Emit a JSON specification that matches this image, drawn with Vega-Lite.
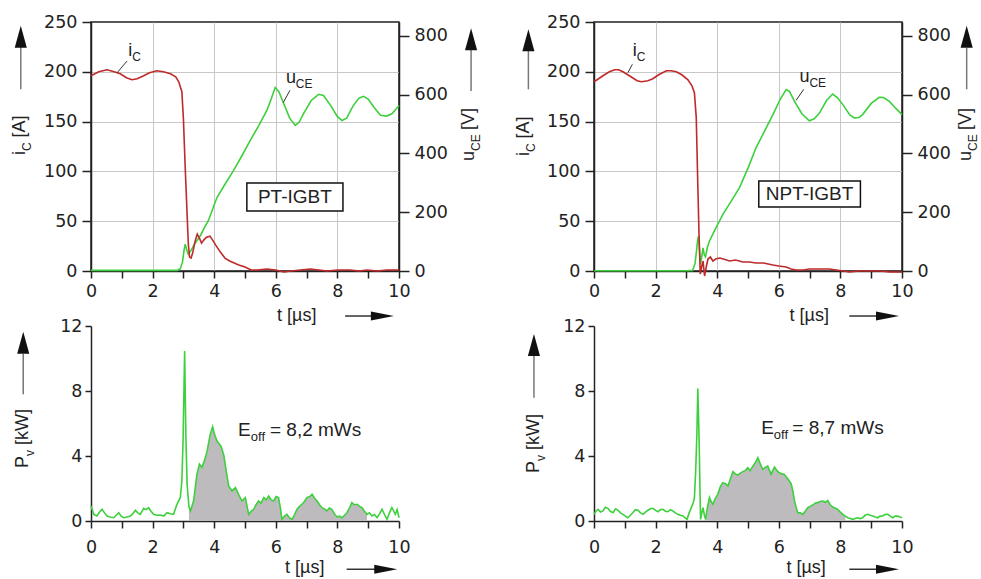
{
  "$schema": "https://vega.github.io/schema/vega-lite/v6.json",
  "padding": {"left": 10, "top": 12, "right": 0, "bottom": 0},
  "background": "white",
  "config": {
    "view": {"stroke": null},
    "font": "Liberation Sans",
    "axis": {"labelFont": "DejaVu Sans", "labelFontSize": 17.5, "labelColor": "#222", "domainColor": "#222", "domainWidth": 1.5, "tickColor": "#222", "tickWidth": 1.5, "gridColor": "#c8c8c8", "gridWidth": 1, "labelFlush": false, "labelOverlap": false},
    "text": {"font": "Liberation Sans", "fill": "#222"}
  },
  "datasets": {
    "tl_current": [
      {"t":0,"y":196},{"t":0.25,"y":200},{"t":0.52,"y":202},{"t":0.75,"y":200},{"t":0.95,"y":198},{"t":1.15,"y":194},{"t":1.33,"y":192},{"t":1.5,"y":193},{"t":1.71,"y":196},{"t":1.9,"y":199},{"t":2.14,"y":201},{"t":2.35,"y":200},{"t":2.58,"y":198},{"t":2.75,"y":195},{"t":2.85,"y":190},{"t":2.95,"y":180},{"t":3.0,"y":153},{"t":3.06,"y":103},{"t":3.12,"y":57},{"t":3.16,"y":27},{"t":3.2,"y":14},{"t":3.25,"y":13},{"t":3.3,"y":18},{"t":3.38,"y":30},{"t":3.45,"y":37},{"t":3.52,"y":33},{"t":3.59,"y":28},{"t":3.66,"y":31},{"t":3.75,"y":34},{"t":3.86,"y":35},{"t":3.95,"y":31},{"t":4.05,"y":26},{"t":4.2,"y":19},{"t":4.35,"y":13},{"t":4.5,"y":10},{"t":4.65,"y":8},{"t":4.8,"y":6},{"t":5.0,"y":4},{"t":5.2,"y":1},{"t":5.4,"y":1},{"t":5.71,"y":2},{"t":6.0,"y":1},{"t":6.26,"y":-1},{"t":6.5,"y":0},{"t":6.8,"y":1},{"t":7.12,"y":2},{"t":7.4,"y":1},{"t":7.66,"y":0},{"t":8.0,"y":1},{"t":8.42,"y":1},{"t":8.7,"y":0},{"t":8.96,"y":1},{"t":9.3,"y":0},{"t":9.6,"y":1},{"t":10,"y":1}
    ],
    "tl_voltage": [
      {"t":0,"y":2},{"t":1,"y":2},{"t":2,"y":2},{"t":2.8,"y":2},{"t":2.9,"y":8},{"t":2.97,"y":30},{"t":3.02,"y":70},{"t":3.06,"y":91},{"t":3.1,"y":75},{"t":3.16,"y":57},{"t":3.25,"y":70},{"t":3.35,"y":90},{"t":3.43,"y":102},{"t":3.55,"y":120},{"t":3.67,"y":145},{"t":3.81,"y":171},{"t":4.09,"y":250},{"t":4.35,"y":295},{"t":4.63,"y":342},{"t":4.9,"y":392},{"t":5.17,"y":444},{"t":5.45,"y":495},{"t":5.71,"y":546},{"t":5.85,"y":585},{"t":5.98,"y":624},{"t":6.1,"y":610},{"t":6.26,"y":569},{"t":6.45,"y":520},{"t":6.63,"y":495},{"t":6.75,"y":505},{"t":6.9,"y":535},{"t":7.15,"y":580},{"t":7.39,"y":601},{"t":7.55,"y":597},{"t":7.8,"y":560},{"t":8.0,"y":525},{"t":8.15,"y":512},{"t":8.3,"y":520},{"t":8.5,"y":560},{"t":8.7,"y":588},{"t":8.85,"y":594},{"t":9.0,"y":585},{"t":9.18,"y":558},{"t":9.4,"y":530},{"t":9.6,"y":527},{"t":9.77,"y":535},{"t":9.9,"y":550},{"t":10,"y":563}
    ],
    "tr_current": [
      {"t":0,"y":190},{"t":0.15,"y":193},{"t":0.29,"y":196},{"t":0.5,"y":200},{"t":0.67,"y":202},{"t":0.8,"y":202},{"t":0.94,"y":200},{"t":1.2,"y":195},{"t":1.4,"y":191},{"t":1.54,"y":190},{"t":1.75,"y":191},{"t":1.91,"y":193},{"t":2.1,"y":197},{"t":2.35,"y":201},{"t":2.5,"y":201},{"t":2.67,"y":200},{"t":2.85,"y":197},{"t":3.05,"y":192},{"t":3.18,"y":186},{"t":3.26,"y":179},{"t":3.32,"y":154},{"t":3.37,"y":87},{"t":3.41,"y":37},{"t":3.45,"y":-3},{"t":3.5,"y":5},{"t":3.54,"y":10},{"t":3.59,"y":-5},{"t":3.65,"y":5},{"t":3.7,"y":12},{"t":3.78,"y":14},{"t":3.86,"y":10},{"t":3.95,"y":12},{"t":4.08,"y":13},{"t":4.2,"y":12},{"t":4.4,"y":10},{"t":4.6,"y":11},{"t":4.83,"y":9},{"t":5.05,"y":9},{"t":5.26,"y":8},{"t":5.5,"y":8},{"t":5.81,"y":6},{"t":6.0,"y":5},{"t":6.24,"y":4},{"t":6.4,"y":2},{"t":6.56,"y":1},{"t":6.8,"y":1},{"t":6.99,"y":2},{"t":7.2,"y":2},{"t":7.43,"y":2},{"t":7.65,"y":2},{"t":7.86,"y":1},{"t":8.1,"y":0},{"t":8.29,"y":-1},{"t":8.6,"y":0},{"t":8.94,"y":0},{"t":9.3,"y":0},{"t":9.6,"y":-1},{"t":10,"y":-1}
    ],
    "tr_voltage": [
      {"t":0,"y":1},{"t":1,"y":1},{"t":2,"y":1},{"t":3,"y":1},{"t":3.2,"y":2},{"t":3.28,"y":25},{"t":3.33,"y":70},{"t":3.37,"y":110},{"t":3.4,"y":119},{"t":3.43,"y":60},{"t":3.46,"y":25},{"t":3.5,"y":50},{"t":3.54,"y":79},{"t":3.58,"y":55},{"t":3.62,"y":48},{"t":3.68,"y":80},{"t":3.75,"y":102},{"t":3.9,"y":135},{"t":4.18,"y":192},{"t":4.45,"y":237},{"t":4.72,"y":283},{"t":5.0,"y":350},{"t":5.26,"y":419},{"t":5.55,"y":478},{"t":5.81,"y":532},{"t":6.05,"y":585},{"t":6.24,"y":617},{"t":6.35,"y":610},{"t":6.51,"y":577},{"t":6.75,"y":535},{"t":6.99,"y":511},{"t":7.15,"y":518},{"t":7.32,"y":537},{"t":7.55,"y":580},{"t":7.75,"y":602},{"t":7.9,"y":590},{"t":8.08,"y":566},{"t":8.3,"y":532},{"t":8.45,"y":521},{"t":8.6,"y":522},{"t":8.72,"y":532},{"t":9.0,"y":570},{"t":9.26,"y":591},{"t":9.4,"y":590},{"t":9.59,"y":577},{"t":9.8,"y":553},{"t":10,"y":532}
    ],
    "bl_power": [
      {"t":0,"y":0.92},{"t":0.09,"y":0.41},{"t":0.19,"y":0.31},{"t":0.28,"y":0.55},{"t":0.36,"y":0.72},{"t":0.44,"y":0.5},{"t":0.52,"y":0.31},{"t":0.62,"y":0.25},{"t":0.74,"y":0.2},{"t":0.82,"y":0.35},{"t":0.9,"y":0.51},{"t":0.98,"y":0.3},{"t":1.06,"y":0.2},{"t":1.17,"y":0.25},{"t":1.28,"y":0.31},{"t":1.36,"y":0.45},{"t":1.44,"y":0.66},{"t":1.52,"y":0.5},{"t":1.6,"y":0.41},{"t":1.71,"y":0.78},{"t":1.79,"y":0.7},{"t":1.87,"y":0.82},{"t":1.95,"y":0.6},{"t":2.03,"y":0.41},{"t":2.14,"y":0.35},{"t":2.25,"y":0.37},{"t":2.36,"y":0.3},{"t":2.47,"y":0.51},{"t":2.58,"y":0.45},{"t":2.68,"y":0.41},{"t":2.79,"y":1.03},{"t":2.9,"y":1.44},{"t":2.95,"y":2.46},{"t":2.99,"y":5.0},{"t":3.04,"y":10.46},{"t":3.08,"y":5.3},{"t":3.12,"y":2.26},{"t":3.18,"y":0.9},{"t":3.23,"y":0.62},{"t":3.33,"y":1.23},{"t":3.44,"y":2.87},{"t":3.52,"y":3.5},{"t":3.6,"y":3.3},{"t":3.68,"y":3.7},{"t":3.77,"y":4.3},{"t":3.87,"y":5.33},{"t":3.95,"y":5.8},{"t":4.01,"y":5.33},{"t":4.09,"y":4.92},{"t":4.22,"y":4.6},{"t":4.31,"y":4.06},{"t":4.39,"y":3.08},{"t":4.47,"y":2.15},{"t":4.58,"y":1.85},{"t":4.69,"y":2.05},{"t":4.79,"y":1.64},{"t":4.9,"y":1.23},{"t":5.01,"y":1.44},{"t":5.12,"y":0.41},{"t":5.2,"y":0.6},{"t":5.28,"y":0.72},{"t":5.36,"y":1.0},{"t":5.44,"y":1.23},{"t":5.52,"y":1.1},{"t":5.61,"y":1.44},{"t":5.69,"y":1.3},{"t":5.77,"y":1.54},{"t":5.85,"y":1.3},{"t":5.93,"y":1.23},{"t":6.01,"y":1.5},{"t":6.09,"y":1.44},{"t":6.15,"y":0.8},{"t":6.2,"y":0.1},{"t":6.28,"y":0.3},{"t":6.36,"y":0.41},{"t":6.44,"y":0.2},{"t":6.53,"y":0.1},{"t":6.61,"y":0.4},{"t":6.69,"y":0.72},{"t":6.77,"y":0.9},{"t":6.85,"y":1.03},{"t":6.93,"y":1.2},{"t":7.01,"y":1.44},{"t":7.1,"y":1.5},{"t":7.18,"y":1.64},{"t":7.26,"y":1.4},{"t":7.34,"y":1.23},{"t":7.42,"y":1.0},{"t":7.5,"y":0.82},{"t":7.58,"y":0.75},{"t":7.66,"y":0.62},{"t":7.74,"y":0.8},{"t":7.82,"y":0.72},{"t":7.9,"y":0.45},{"t":7.99,"y":0.25},{"t":8.07,"y":0.3},{"t":8.15,"y":0.2},{"t":8.23,"y":0.35},{"t":8.31,"y":0.51},{"t":8.39,"y":0.8},{"t":8.47,"y":1.13},{"t":8.55,"y":1.0},{"t":8.64,"y":1.03},{"t":8.72,"y":0.9},{"t":8.8,"y":0.82},{"t":8.88,"y":0.6},{"t":8.96,"y":0.41},{"t":9.04,"y":0.5},{"t":9.12,"y":0.31},{"t":9.2,"y":0.4},{"t":9.29,"y":0.2},{"t":9.37,"y":0.45},{"t":9.45,"y":0.72},{"t":9.53,"y":0.4},{"t":9.61,"y":0.1},{"t":9.69,"y":0.5},{"t":9.77,"y":0.82},{"t":9.83,"y":0.6},{"t":9.88,"y":0.41},{"t":9.94,"y":0.7},{"t":10,"y":0.2}
    ],
    "br_power": [
      {"t":0,"y":0.41},{"t":0.06,"y":0.6},{"t":0.13,"y":0.72},{"t":0.21,"y":0.55},{"t":0.29,"y":0.62},{"t":0.37,"y":0.85},{"t":0.45,"y":0.78},{"t":0.53,"y":0.6},{"t":0.62,"y":0.51},{"t":0.7,"y":0.75},{"t":0.78,"y":0.66},{"t":0.86,"y":0.5},{"t":0.94,"y":0.41},{"t":1.02,"y":0.3},{"t":1.1,"y":0.2},{"t":1.18,"y":0.35},{"t":1.26,"y":0.51},{"t":1.34,"y":0.7},{"t":1.43,"y":0.66},{"t":1.51,"y":0.5},{"t":1.59,"y":0.41},{"t":1.67,"y":0.55},{"t":1.75,"y":0.66},{"t":1.83,"y":0.75},{"t":1.91,"y":0.78},{"t":2.0,"y":0.65},{"t":2.08,"y":0.57},{"t":2.16,"y":0.7},{"t":2.24,"y":0.72},{"t":2.32,"y":0.6},{"t":2.4,"y":0.57},{"t":2.48,"y":0.7},{"t":2.56,"y":0.62},{"t":2.64,"y":0.5},{"t":2.72,"y":0.41},{"t":2.8,"y":0.35},{"t":2.89,"y":0.31},{"t":2.95,"y":0.2},{"t":3.02,"y":0.1},{"t":3.09,"y":0.5},{"t":3.16,"y":0.82},{"t":3.22,"y":1.1},{"t":3.26,"y":1.44},{"t":3.3,"y":3.0},{"t":3.34,"y":5.33},{"t":3.37,"y":8.16},{"t":3.4,"y":6.0},{"t":3.42,"y":4.3},{"t":3.44,"y":2.0},{"t":3.46,"y":0.1},{"t":3.5,"y":0.5},{"t":3.54,"y":0.82},{"t":3.58,"y":0.4},{"t":3.62,"y":0.1},{"t":3.68,"y":0.8},{"t":3.75,"y":1.44},{"t":3.8,"y":1.2},{"t":3.86,"y":1.03},{"t":3.94,"y":1.4},{"t":4.02,"y":1.64},{"t":4.1,"y":2.1},{"t":4.18,"y":2.36},{"t":4.27,"y":2.3},{"t":4.35,"y":2.15},{"t":4.43,"y":2.6},{"t":4.51,"y":3.04},{"t":4.59,"y":2.9},{"t":4.67,"y":2.83},{"t":4.75,"y":2.95},{"t":4.83,"y":3.04},{"t":4.91,"y":3.1},{"t":4.99,"y":3.28},{"t":5.07,"y":3.1},{"t":5.16,"y":3.38},{"t":5.24,"y":3.6},{"t":5.32,"y":3.9},{"t":5.4,"y":3.5},{"t":5.48,"y":3.18},{"t":5.56,"y":3.3},{"t":5.64,"y":3.38},{"t":5.7,"y":3.1},{"t":5.75,"y":2.87},{"t":5.8,"y":3.1},{"t":5.86,"y":3.32},{"t":5.94,"y":3.1},{"t":6.02,"y":2.97},{"t":6.1,"y":2.9},{"t":6.18,"y":2.87},{"t":6.29,"y":2.6},{"t":6.4,"y":2.3},{"t":6.46,"y":1.8},{"t":6.51,"y":1.23},{"t":6.57,"y":0.8},{"t":6.62,"y":0.51},{"t":6.7,"y":0.5},{"t":6.78,"y":0.41},{"t":6.86,"y":0.6},{"t":6.94,"y":0.82},{"t":7.02,"y":0.9},{"t":7.1,"y":0.98},{"t":7.18,"y":1.1},{"t":7.26,"y":1.13},{"t":7.34,"y":1.2},{"t":7.43,"y":1.23},{"t":7.51,"y":1.15},{"t":7.59,"y":1.27},{"t":7.67,"y":1.0},{"t":7.75,"y":0.86},{"t":7.83,"y":0.8},{"t":7.91,"y":0.72},{"t":8.0,"y":0.55},{"t":8.08,"y":0.41},{"t":8.16,"y":0.3},{"t":8.24,"y":0.2},{"t":8.32,"y":0.15},{"t":8.4,"y":0.1},{"t":8.48,"y":0.15},{"t":8.56,"y":0.2},{"t":8.64,"y":0.15},{"t":8.72,"y":0.2},{"t":8.8,"y":0.35},{"t":8.89,"y":0.41},{"t":8.97,"y":0.35},{"t":9.05,"y":0.31},{"t":9.13,"y":0.25},{"t":9.21,"y":0.2},{"t":9.29,"y":0.3},{"t":9.37,"y":0.31},{"t":9.45,"y":0.4},{"t":9.54,"y":0.41},{"t":9.62,"y":0.3},{"t":9.7,"y":0.2},{"t":9.78,"y":0.3},{"t":9.86,"y":0.31},{"t":9.93,"y":0.25},{"t":10,"y":0.2}
    ],
    "labels": [
      {"panel":"TL","kind":"h18","t":6.04,"y":-50,"text":"t [µs]"},
      {"panel":"TL","kind":"h18","t":1.21,"y":215.9,"text":"i"},
      {"panel":"TL","kind":"h18","t":6.33,"y":189,"text":"u"},
      {"panel":"TL","kind":"h12s","t":1.34,"y":215.9,"text":"C"},
      {"panel":"TL","kind":"h12s","t":6.65,"y":189,"text":"CE"},
      {"panel":"TL","kind":"r18","t":-2.13,"y":116.5,"text":"i"},
      {"panel":"TL","kind":"r18","t":-2.13,"y":134.0,"text":"[A]"},
      {"panel":"TL","kind":"r18","t":12.45,"y":110.4,"text":"u"},
      {"panel":"TL","kind":"r18","t":12.45,"y":141.6,"text":"[V]"},
      {"panel":"TL","kind":"r12s","t":-2.13,"y":120.5,"text":"C"},
      {"panel":"TL","kind":"r12s","t":12.45,"y":120.5,"text":"CE"},
      {"panel":"TL","kind":"c19","t":6.62,"y":74.3,"text":"PT-IGBT"},
      {"panel":"TR","kind":"h18","t":6.35,"y":-50,"text":"t [µs]"},
      {"panel":"TR","kind":"h18","t":1.255,"y":215.9,"text":"i"},
      {"panel":"TR","kind":"h18","t":6.67,"y":189.3,"text":"u"},
      {"panel":"TR","kind":"h12s","t":1.385,"y":215.9,"text":"C"},
      {"panel":"TR","kind":"h12s","t":6.995,"y":189.3,"text":"CE"},
      {"panel":"TR","kind":"r18","t":-2.10,"y":115.5,"text":"i"},
      {"panel":"TR","kind":"r18","t":-2.10,"y":133.0,"text":"[A]"},
      {"panel":"TR","kind":"r18","t":12.25,"y":110.4,"text":"u"},
      {"panel":"TR","kind":"r18","t":12.25,"y":141.6,"text":"[V]"},
      {"panel":"TR","kind":"r12s","t":-2.10,"y":119.5,"text":"C"},
      {"panel":"TR","kind":"r12s","t":12.25,"y":120.5,"text":"CE"},
      {"panel":"TR","kind":"c19","t":7.0,"y":77.3,"text":"NPT-IGBT"},
      {"panel":"BL","kind":"h18","t":6.30,"y":-3.2,"text":"t [µs]"},
      {"panel":"BL","kind":"h19","t":4.77,"y":5.23,"text":"E"},
      {"panel":"BL","kind":"h19","t":5.81,"y":5.23,"text":"= 8,2 mWs"},
      {"panel":"BL","kind":"h13s","t":5.19,"y":5.23,"text":"off"},
      {"panel":"BL","kind":"r18","t":-2.05,"y":3.26,"text":"P"},
      {"panel":"BL","kind":"r18","t":-2.05,"y":4.68,"text":"[kW]"},
      {"panel":"BL","kind":"r12s","t":-2.05,"y":4.0,"text":"v"},
      {"panel":"BR","kind":"h18","t":6.25,"y":-3.2,"text":"t [µs]"},
      {"panel":"BR","kind":"h19","t":5.43,"y":5.35,"text":"E"},
      {"panel":"BR","kind":"h19","t":6.44,"y":5.35,"text":"= 8,7 mWs"},
      {"panel":"BR","kind":"h13s","t":5.84,"y":5.35,"text":"off"},
      {"panel":"BR","kind":"r18","t":-1.78,"y":2.95,"text":"P"},
      {"panel":"BR","kind":"r18","t":-1.78,"y":4.37,"text":"[kW]"},
      {"panel":"BR","kind":"r12s","t":-1.78,"y":3.69,"text":"v"}
    ],
    "segs": [
      {"panel":"TL","kind":"leader","t":1.17,"y":210.8,"t2":0.84,"y2":198.8},
      {"panel":"TL","kind":"leader","t":6.46,"y":181.4,"t2":6.24,"y2":169},
      {"panel":"TL","kind":"varrow","t":-2.28,"y":182.4,"t2":-2.28,"y2":225},
      {"panel":"TL","kind":"varrow","t":12.34,"y":180.7,"t2":12.34,"y2":223},
      {"panel":"TL","kind":"harrow","t":8.25,"y":-45.2,"t2":9.2,"y2":-45.2},
      {"panel":"TR","kind":"leader","t":1.245,"y":207.5,"t2":1.10,"y2":199.1},
      {"panel":"TR","kind":"leader","t":6.81,"y":182.4,"t2":6.56,"y2":171.3},
      {"panel":"TR","kind":"varrow","t":-2.13,"y":182.4,"t2":-2.13,"y2":221},
      {"panel":"TR","kind":"varrow","t":12.1,"y":182.4,"t2":12.1,"y2":224},
      {"panel":"TR","kind":"harrow","t":8.29,"y":-45.2,"t2":9.2,"y2":-45.2},
      {"panel":"BL","kind":"varrow","t":-2.2,"y":7.8,"t2":-2.2,"y2":10.3},
      {"panel":"BL","kind":"harrow","t":8.3,"y":-2.97,"t2":9.25,"y2":-2.97},
      {"panel":"BR","kind":"varrow","t":-1.95,"y":7.59,"t2":-1.95,"y2":10.15},
      {"panel":"BR","kind":"harrow","t":8.29,"y":-2.97,"t2":9.2,"y2":-2.97}
    ],
    "heads": [
      {"panel":"TL","dir":"up","t":-2.28,"y":235.1},
      {"panel":"TL","dir":"up","t":12.34,"y":232.6},
      {"panel":"TL","dir":"right","t":9.46,"y":-45.2},
      {"panel":"TR","dir":"up","t":-2.13,"y":231.7},
      {"panel":"TR","dir":"up","t":12.1,"y":235.1},
      {"panel":"TR","dir":"right","t":9.53,"y":-45.2},
      {"panel":"BL","dir":"up","t":-2.2,"y":10.97},
      {"panel":"BL","dir":"right","t":9.57,"y":-2.97},
      {"panel":"BR","dir":"up","t":-1.95,"y":10.83},
      {"panel":"BR","dir":"right","t":9.53,"y":-2.97}
    ],
    "boxes": [
      {"panel":"TL","t":5.06,"y":60.2,"t2":8.18,"y2":88.4},
      {"panel":"TR","t":5.35,"y":64.3,"t2":8.65,"y2":90.4}
    ]
  },
  "columns": 2,
  "spacing": {"row": 55, "column": 195},
  "bounds": "flush",
  "concat": [
    {
      "width": 308, "height": 249,
      "view": {"stroke": "#222", "strokeWidth": 1.5},
      "encoding": {"x": {"field": "t", "type": "quantitative", "scale": {"domain": [0, 10], "nice": false},
        "axis": {"title": null, "values": [0,1,2,3,4,5,6,7,8,9,10], "labelExpr": "datum.value % 2 == 0 ? datum.label : ''", "tickSize": 7, "labelPadding": 4, "grid": true, "gridOpacity": {"condition": {"test": "datum.value % 2 == 1 || datum.value == 0 || datum.value == 10", "value": 0}, "value": 1}}}},
      "layer": [
        {
          "encoding": {"y": {"field": "y", "type": "quantitative", "scale": {"domain": [0, 847], "nice": false}, "axis": {"title": null, "orient": "right", "values": [0,200,400,600,800], "tickSize": 10, "labelPadding": 5, "grid": false}}},
          "layer": [
            {"data": {"name": "tl_voltage"}, "mark": {"type": "line", "color": "#3dd03d", "strokeWidth": 1.6}}
          ]
        },
        {
          "encoding": {"y": {"field": "y", "type": "quantitative", "scale": {"domain": [0, 250], "nice": false}, "axis": {"title": null, "orient": "left", "values": [0,50,100,150,200,250], "tickSize": 9, "labelPadding": 5, "grid": true, "gridOpacity": {"condition": {"test": "datum.value == 0 || datum.value == 250", "value": 0}, "value": 1}}}},
          "layer": [
            {"data": {"name": "tl_current"}, "mark": {"type": "line", "color": "#bf2a2a", "strokeWidth": 1.6}},
            {"data": {"name": "boxes"}, "transform": [{"filter": "datum.panel == 'TL'"}], "mark": {"type": "rect", "fill": "white", "stroke": "#111", "strokeWidth": 1.5}, "encoding": {"x2": {"field": "t2"}, "y2": {"field": "y2"}}},
            {"data": {"name": "segs"}, "transform": [{"filter": "datum.panel == 'TL' && datum.kind == 'leader'"}], "mark": {"type": "rule", "color": "#333", "strokeWidth": 1}, "encoding": {"x2": {"field": "t2"}, "y2": {"field": "y2"}}},
            {"data": {"name": "segs"}, "transform": [{"filter": "datum.panel == 'TL' && datum.kind == 'varrow'"}], "mark": {"type": "rule", "color": "#777", "strokeWidth": 1.5}, "encoding": {"x2": {"field": "t2"}, "y2": {"field": "y2"}}},
            {"data": {"name": "segs"}, "transform": [{"filter": "datum.panel == 'TL' && datum.kind == 'harrow'"}], "mark": {"type": "rule", "color": "#333", "strokeWidth": 1.5}, "encoding": {"x2": {"field": "t2"}, "y2": {"field": "y2"}}},
            {"data": {"name": "heads"}, "transform": [{"filter": "datum.panel == 'TL' && datum.dir == 'up'"}], "mark": {"type": "point", "shape": "M0,-1L0.55,1L-0.55,1Z", "size": 484, "filled": true, "color": "#111", "opacity": 1}},
            {"data": {"name": "heads"}, "transform": [{"filter": "datum.panel == 'TL' && datum.dir == 'right'"}], "mark": {"type": "point", "shape": "M1,0L-1,0.4L-1,-0.4Z", "size": 529, "filled": true, "color": "#111", "opacity": 1}},
            {"data": {"name": "labels"}, "transform": [{"filter": "datum.panel == 'TL' && datum.kind == 'h18'"}], "mark": {"type": "text", "align": "left", "baseline": "alphabetic", "fontSize": 18}, "encoding": {"text": {"field": "text"}}},
            {"data": {"name": "labels"}, "transform": [{"filter": "datum.panel == 'TL' && datum.kind == 'h12s'"}], "mark": {"type": "text", "align": "left", "baseline": "alphabetic", "fontSize": 12, "dy": 5}, "encoding": {"text": {"field": "text"}}},
            {"data": {"name": "labels"}, "transform": [{"filter": "datum.panel == 'TL' && datum.kind == 'r18'"}], "mark": {"type": "text", "align": "left", "baseline": "alphabetic", "fontSize": 18, "angle": 270}, "encoding": {"text": {"field": "text"}}},
            {"data": {"name": "labels"}, "transform": [{"filter": "datum.panel == 'TL' && datum.kind == 'r12s'"}], "mark": {"type": "text", "align": "left", "baseline": "alphabetic", "fontSize": 12, "angle": 270, "dy": 6}, "encoding": {"text": {"field": "text"}}},
            {"data": {"name": "labels"}, "transform": [{"filter": "datum.panel == 'TL' && datum.kind == 'c19'"}], "mark": {"type": "text", "align": "center", "baseline": "middle", "fontSize": 19}, "encoding": {"text": {"field": "text"}}}
          ]
        }
      ],
      "resolve": {"scale": {"y": "independent"}, "axis": {"y": "independent"}}
    },
    {
      "width": 308, "height": 249,
      "view": {"stroke": "#222", "strokeWidth": 1.5},
      "encoding": {"x": {"field": "t", "type": "quantitative", "scale": {"domain": [0, 10], "nice": false},
        "axis": {"title": null, "values": [0,1,2,3,4,5,6,7,8,9,10], "labelExpr": "datum.value % 2 == 0 ? datum.label : ''", "tickSize": 7, "labelPadding": 4, "grid": true, "gridOpacity": {"condition": {"test": "datum.value % 2 == 1 || datum.value == 0 || datum.value == 10", "value": 0}, "value": 1}}}},
      "layer": [
        {
          "encoding": {"y": {"field": "y", "type": "quantitative", "scale": {"domain": [0, 847], "nice": false}, "axis": {"title": null, "orient": "right", "values": [0,200,400,600,800], "tickSize": 10, "labelPadding": 5, "grid": false}}},
          "layer": [
            {"data": {"name": "tr_voltage"}, "mark": {"type": "line", "color": "#3dd03d", "strokeWidth": 1.6}}
          ]
        },
        {
          "encoding": {"y": {"field": "y", "type": "quantitative", "scale": {"domain": [0, 250], "nice": false}, "axis": {"title": null, "orient": "left", "values": [0,50,100,150,200,250], "tickSize": 9, "labelPadding": 5, "grid": true, "gridOpacity": {"condition": {"test": "datum.value == 0 || datum.value == 250", "value": 0}, "value": 1}}}},
          "layer": [
            {"data": {"name": "tr_current"}, "mark": {"type": "line", "color": "#bf2a2a", "strokeWidth": 1.6}},
            {"data": {"name": "boxes"}, "transform": [{"filter": "datum.panel == 'TR'"}], "mark": {"type": "rect", "fill": "white", "stroke": "#111", "strokeWidth": 1.5}, "encoding": {"x2": {"field": "t2"}, "y2": {"field": "y2"}}},
            {"data": {"name": "segs"}, "transform": [{"filter": "datum.panel == 'TR' && datum.kind == 'leader'"}], "mark": {"type": "rule", "color": "#333", "strokeWidth": 1}, "encoding": {"x2": {"field": "t2"}, "y2": {"field": "y2"}}},
            {"data": {"name": "segs"}, "transform": [{"filter": "datum.panel == 'TR' && datum.kind == 'varrow'"}], "mark": {"type": "rule", "color": "#777", "strokeWidth": 1.5}, "encoding": {"x2": {"field": "t2"}, "y2": {"field": "y2"}}},
            {"data": {"name": "segs"}, "transform": [{"filter": "datum.panel == 'TR' && datum.kind == 'harrow'"}], "mark": {"type": "rule", "color": "#333", "strokeWidth": 1.5}, "encoding": {"x2": {"field": "t2"}, "y2": {"field": "y2"}}},
            {"data": {"name": "heads"}, "transform": [{"filter": "datum.panel == 'TR' && datum.dir == 'up'"}], "mark": {"type": "point", "shape": "M0,-1L0.55,1L-0.55,1Z", "size": 484, "filled": true, "color": "#111", "opacity": 1}},
            {"data": {"name": "heads"}, "transform": [{"filter": "datum.panel == 'TR' && datum.dir == 'right'"}], "mark": {"type": "point", "shape": "M1,0L-1,0.4L-1,-0.4Z", "size": 529, "filled": true, "color": "#111", "opacity": 1}},
            {"data": {"name": "labels"}, "transform": [{"filter": "datum.panel == 'TR' && datum.kind == 'h18'"}], "mark": {"type": "text", "align": "left", "baseline": "alphabetic", "fontSize": 18}, "encoding": {"text": {"field": "text"}}},
            {"data": {"name": "labels"}, "transform": [{"filter": "datum.panel == 'TR' && datum.kind == 'h12s'"}], "mark": {"type": "text", "align": "left", "baseline": "alphabetic", "fontSize": 12, "dy": 5}, "encoding": {"text": {"field": "text"}}},
            {"data": {"name": "labels"}, "transform": [{"filter": "datum.panel == 'TR' && datum.kind == 'r18'"}], "mark": {"type": "text", "align": "left", "baseline": "alphabetic", "fontSize": 18, "angle": 270}, "encoding": {"text": {"field": "text"}}},
            {"data": {"name": "labels"}, "transform": [{"filter": "datum.panel == 'TR' && datum.kind == 'r12s'"}], "mark": {"type": "text", "align": "left", "baseline": "alphabetic", "fontSize": 12, "angle": 270, "dy": 6}, "encoding": {"text": {"field": "text"}}},
            {"data": {"name": "labels"}, "transform": [{"filter": "datum.panel == 'TR' && datum.kind == 'c19'"}], "mark": {"type": "text", "align": "center", "baseline": "middle", "fontSize": 19}, "encoding": {"text": {"field": "text"}}}
          ]
        }
      ],
      "resolve": {"scale": {"y": "independent"}, "axis": {"y": "independent"}}
    },
    {
      "width": 308, "height": 195,
      "encoding": {
        "x": {"field": "t", "type": "quantitative", "scale": {"domain": [0, 10], "nice": false},
          "axis": {"title": null, "values": [0,1,2,3,4,5,6,7,8,9,10], "labelExpr": "datum.value % 2 == 0 ? datum.label : ''", "tickSize": 7, "labelPadding": 10, "grid": false}},
        "y": {"field": "y", "type": "quantitative", "scale": {"domain": [0, 12], "nice": false},
          "axis": {"title": null, "values": [0,4,8,12], "tickSize": 6, "labelPadding": 3, "grid": false}}
      },
      "layer": [
        {"data": {"name": "bl_power"}, "transform": [{"filter": {"field": "t", "range": [3.18, 9.0]}}], "mark": {"type": "area", "color": "#bebbbf"}},
        {"data": {"name": "bl_power"}, "mark": {"type": "line", "color": "#3dd03d", "strokeWidth": 1.6}},
        {"data": {"name": "segs"}, "transform": [{"filter": "datum.panel == 'BL' && datum.kind == 'varrow'"}], "mark": {"type": "rule", "color": "#777", "strokeWidth": 1.5}, "encoding": {"x2": {"field": "t2"}, "y2": {"field": "y2"}}},
        {"data": {"name": "segs"}, "transform": [{"filter": "datum.panel == 'BL' && datum.kind == 'harrow'"}], "mark": {"type": "rule", "color": "#333", "strokeWidth": 1.5}, "encoding": {"x2": {"field": "t2"}, "y2": {"field": "y2"}}},
        {"data": {"name": "heads"}, "transform": [{"filter": "datum.panel == 'BL' && datum.dir == 'up'"}], "mark": {"type": "point", "shape": "M0,-1L0.55,1L-0.55,1Z", "size": 484, "filled": true, "color": "#111", "opacity": 1}},
        {"data": {"name": "heads"}, "transform": [{"filter": "datum.panel == 'BL' && datum.dir == 'right'"}], "mark": {"type": "point", "shape": "M1,0L-1,0.4L-1,-0.4Z", "size": 529, "filled": true, "color": "#111", "opacity": 1}},
        {"data": {"name": "labels"}, "transform": [{"filter": "datum.panel == 'BL' && datum.kind == 'h18'"}], "mark": {"type": "text", "align": "left", "baseline": "alphabetic", "fontSize": 18}, "encoding": {"text": {"field": "text"}}},
        {"data": {"name": "labels"}, "transform": [{"filter": "datum.panel == 'BL' && datum.kind == 'h19'"}], "mark": {"type": "text", "align": "left", "baseline": "alphabetic", "fontSize": 19}, "encoding": {"text": {"field": "text"}}},
        {"data": {"name": "labels"}, "transform": [{"filter": "datum.panel == 'BL' && datum.kind == 'h13s'"}], "mark": {"type": "text", "align": "left", "baseline": "alphabetic", "fontSize": 13, "dy": 5}, "encoding": {"text": {"field": "text"}}},
        {"data": {"name": "labels"}, "transform": [{"filter": "datum.panel == 'BL' && datum.kind == 'r18'"}], "mark": {"type": "text", "align": "left", "baseline": "alphabetic", "fontSize": 18, "angle": 270}, "encoding": {"text": {"field": "text"}}},
        {"data": {"name": "labels"}, "transform": [{"filter": "datum.panel == 'BL' && datum.kind == 'r12s'"}], "mark": {"type": "text", "align": "left", "baseline": "alphabetic", "fontSize": 12, "angle": 270, "dy": 6}, "encoding": {"text": {"field": "text"}}}
      ]
    },
    {
      "width": 308, "height": 195,
      "encoding": {
        "x": {"field": "t", "type": "quantitative", "scale": {"domain": [0, 10], "nice": false},
          "axis": {"title": null, "values": [0,1,2,3,4,5,6,7,8,9,10], "labelExpr": "datum.value % 2 == 0 ? datum.label : ''", "tickSize": 7, "labelPadding": 10, "grid": false}},
        "y": {"field": "y", "type": "quantitative", "scale": {"domain": [0, 12], "nice": false},
          "axis": {"title": null, "values": [0,4,8,12], "tickSize": 6, "labelPadding": 3, "grid": false}}
      },
      "layer": [
        {"data": {"name": "br_power"}, "transform": [{"filter": {"field": "t", "range": [3.62, 8.2]}}], "mark": {"type": "area", "color": "#bebbbf"}},
        {"data": {"name": "br_power"}, "mark": {"type": "line", "color": "#3dd03d", "strokeWidth": 1.6}},
        {"data": {"name": "segs"}, "transform": [{"filter": "datum.panel == 'BR' && datum.kind == 'varrow'"}], "mark": {"type": "rule", "color": "#777", "strokeWidth": 1.5}, "encoding": {"x2": {"field": "t2"}, "y2": {"field": "y2"}}},
        {"data": {"name": "segs"}, "transform": [{"filter": "datum.panel == 'BR' && datum.kind == 'harrow'"}], "mark": {"type": "rule", "color": "#333", "strokeWidth": 1.5}, "encoding": {"x2": {"field": "t2"}, "y2": {"field": "y2"}}},
        {"data": {"name": "heads"}, "transform": [{"filter": "datum.panel == 'BR' && datum.dir == 'up'"}], "mark": {"type": "point", "shape": "M0,-1L0.55,1L-0.55,1Z", "size": 484, "filled": true, "color": "#111", "opacity": 1}},
        {"data": {"name": "heads"}, "transform": [{"filter": "datum.panel == 'BR' && datum.dir == 'right'"}], "mark": {"type": "point", "shape": "M1,0L-1,0.4L-1,-0.4Z", "size": 529, "filled": true, "color": "#111", "opacity": 1}},
        {"data": {"name": "labels"}, "transform": [{"filter": "datum.panel == 'BR' && datum.kind == 'h18'"}], "mark": {"type": "text", "align": "left", "baseline": "alphabetic", "fontSize": 18}, "encoding": {"text": {"field": "text"}}},
        {"data": {"name": "labels"}, "transform": [{"filter": "datum.panel == 'BR' && datum.kind == 'h19'"}], "mark": {"type": "text", "align": "left", "baseline": "alphabetic", "fontSize": 19}, "encoding": {"text": {"field": "text"}}},
        {"data": {"name": "labels"}, "transform": [{"filter": "datum.panel == 'BR' && datum.kind == 'h13s'"}], "mark": {"type": "text", "align": "left", "baseline": "alphabetic", "fontSize": 13, "dy": 5}, "encoding": {"text": {"field": "text"}}},
        {"data": {"name": "labels"}, "transform": [{"filter": "datum.panel == 'BR' && datum.kind == 'r18'"}], "mark": {"type": "text", "align": "left", "baseline": "alphabetic", "fontSize": 18, "angle": 270}, "encoding": {"text": {"field": "text"}}},
        {"data": {"name": "labels"}, "transform": [{"filter": "datum.panel == 'BR' && datum.kind == 'r12s'"}], "mark": {"type": "text", "align": "left", "baseline": "alphabetic", "fontSize": 12, "angle": 270, "dy": 6}, "encoding": {"text": {"field": "text"}}}
      ]
    }
  ]
}
